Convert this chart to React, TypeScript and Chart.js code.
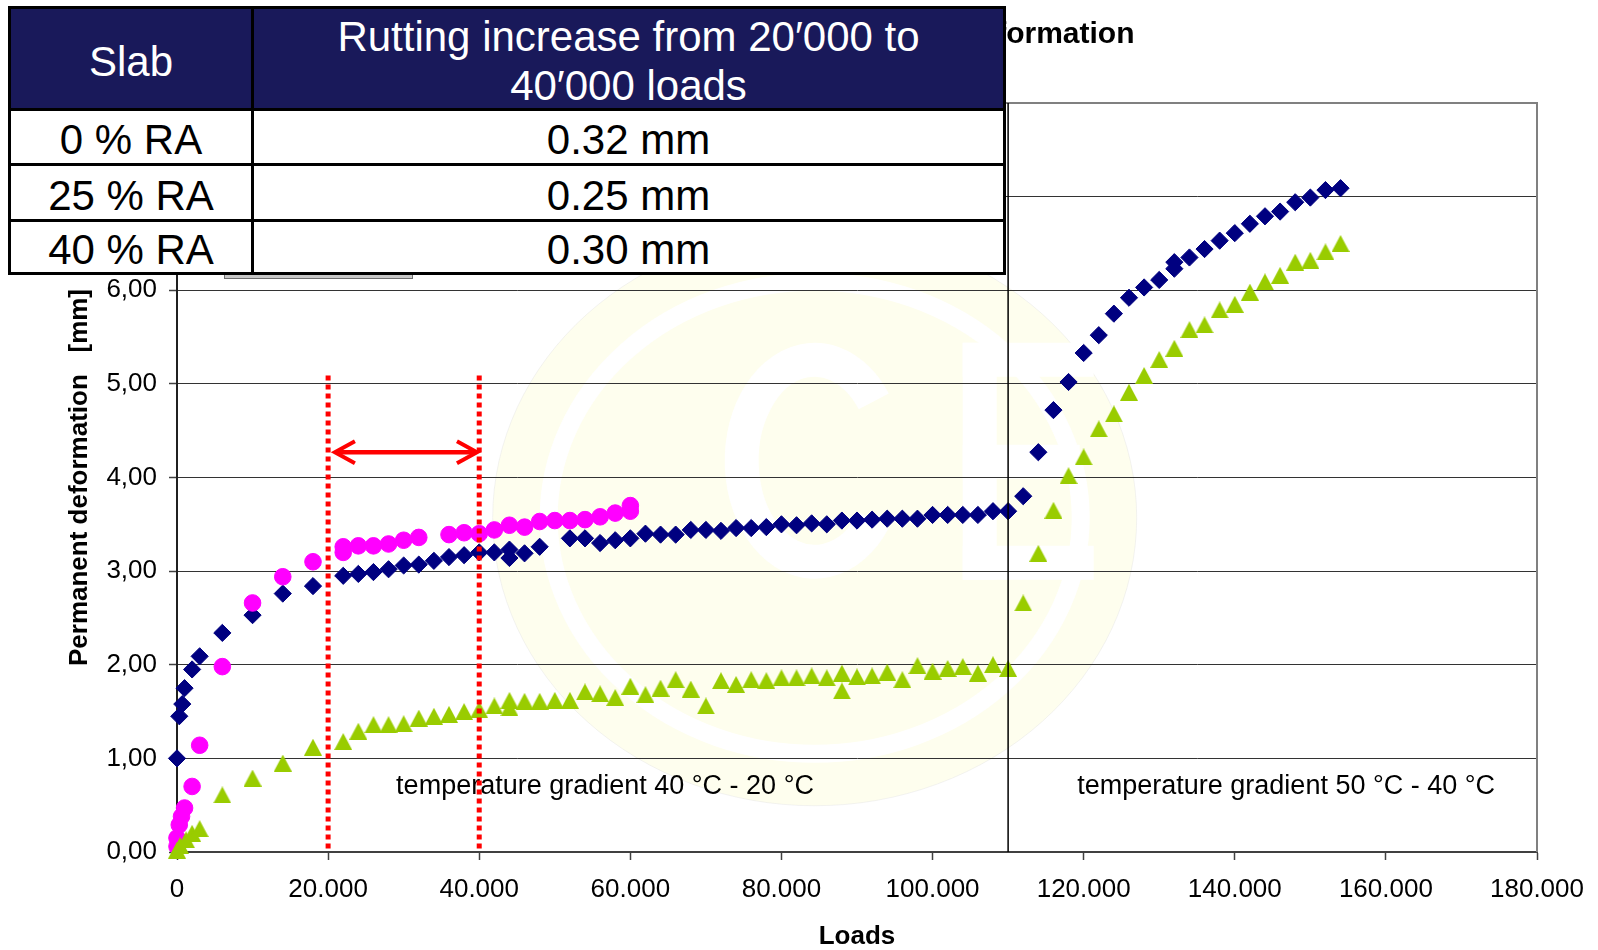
import React, { useEffect, useRef } from 'react';
import { Chart, registerables } from 'chart.js';

Chart.register(...registerables);

const FONT = "'Liberation Sans', Arial, Helvetica, sans-serif";

// ---------- axes ----------
const X_MIN = 0;
const X_MAX = 180000;
const X_STEP = 20000;
const Y_MIN = 0;
const Y_MAX = 8;
const Y_STEP = 1;
const X_TITLE = 'Loads';
const Y_TITLE = 'Permanent deformation   [mm]';
const CHART_TITLE = 'Comparison of permanent deformation';

// ---------- series ----------
const SERIES_LABELS = ['0 % RA', '25 % RA', '40 % RA'];

// 0 % RA (green triangles)
const loadsRA0 = [
  0, 400, 1200, 2000, 3000, 6000, 10000, 14000, 18000, 22000, 24000, 26000, 28000, 30000, 32000, 34000,
  36000, 38000, 40000, 42000, 44000, 44000, 46000, 48000, 50000, 52000, 54000, 56000, 58000, 60000, 62000,
  64000, 66000, 68000, 70000, 72000, 74000, 76000, 78000, 80000, 82000, 84000, 86000, 88000, 88000, 90000,
  92000, 94000, 96000, 98000, 100000, 102000, 104000, 106000, 108000, 110000, 112000, 114000, 116000,
  118000, 120000, 122000, 124000, 126000, 128000, 130000, 132000, 134000, 136000, 138000, 140000, 142000,
  144000, 146000, 148000, 150000, 152000, 154000,
];
const defRA0 = [
  0.02, 0.07, 0.13, 0.2, 0.25, 0.61, 0.79, 0.95, 1.12, 1.18, 1.29, 1.36, 1.36, 1.37, 1.43, 1.45,
  1.47, 1.5, 1.52, 1.56, 1.62, 1.54, 1.61, 1.61, 1.62, 1.62, 1.71, 1.69, 1.65, 1.77, 1.68,
  1.75, 1.84, 1.74, 1.56, 1.83, 1.79, 1.84, 1.83, 1.86, 1.86, 1.88, 1.86, 1.91, 1.72, 1.87,
  1.88, 1.92, 1.84, 1.99, 1.93, 1.96, 1.98, 1.91, 2.0, 1.96, 2.66, 3.19, 3.65,
  4.02, 4.22, 4.52, 4.68, 4.91, 5.09, 5.26, 5.38, 5.58, 5.63, 5.79, 5.85, 5.98,
  6.09, 6.16, 6.3, 6.32, 6.41, 6.5,
];

// 25 % RA (magenta circles)
const loadsRA25 = [
  0, 0, 300, 600, 1000, 2000, 3000, 6000, 10000, 14000, 18000, 22000, 22000, 24000, 26000, 28000, 30000,
  32000, 36000, 38000, 40000, 42000, 44000, 46000, 48000, 50000, 52000, 54000, 56000, 58000, 60000, 60000,
];
const defRA25 = [
  0.06, 0.15, 0.29, 0.38, 0.47, 0.7, 1.14, 1.98, 2.66, 2.94, 3.1, 3.2, 3.26, 3.27, 3.27, 3.29, 3.33,
  3.36, 3.39, 3.41, 3.4, 3.44, 3.49, 3.47, 3.53, 3.54, 3.54, 3.55, 3.58, 3.62, 3.64, 3.7,
];

// 40 % RA (navy diamonds)
const loadsRA40 = [
  0, 300, 700, 1000, 2000, 3000, 6000, 10000, 14000, 18000, 22000, 24000, 26000, 28000, 30000, 32000,
  34000, 36000, 38000, 40000, 42000, 44000, 44000, 46000, 48000, 52000, 54000, 56000, 58000, 60000, 62000,
  64000, 66000, 68000, 70000, 72000, 74000, 76000, 78000, 80000, 82000, 84000, 86000, 88000, 90000, 92000,
  94000, 96000, 98000, 100000, 102000, 104000, 106000, 108000, 110000, 112000, 114000, 116000, 118000,
  120000, 122000, 124000, 126000, 128000, 130000, 132000, 132000, 134000, 136000, 138000, 140000, 142000,
  144000, 146000, 148000, 150000, 152000, 154000,
];
const defRA40 = [
  1.0, 1.45, 1.58, 1.75, 1.95, 2.09, 2.34, 2.53, 2.76, 2.84, 2.95, 2.97, 2.99, 3.02, 3.06, 3.07,
  3.11, 3.15, 3.17, 3.2, 3.2, 3.23, 3.14, 3.19, 3.26, 3.35, 3.35, 3.3, 3.33, 3.35, 3.4,
  3.39, 3.39, 3.44, 3.44, 3.43, 3.46, 3.46, 3.47, 3.5, 3.49, 3.51, 3.5, 3.54, 3.54, 3.55,
  3.56, 3.56, 3.56, 3.6, 3.6, 3.6, 3.6, 3.64, 3.64, 3.8, 4.27, 4.72, 5.02,
  5.33, 5.52, 5.75, 5.92, 6.03, 6.11, 6.23, 6.3, 6.35, 6.44, 6.53, 6.61, 6.71,
  6.79, 6.84, 6.94, 6.99, 7.07, 7.09,
];

// ---------- annotations ----------
const MARKER_LOADS = [20000, 40000];
const MARKER_TOP = 5.09;
const ARROW_FROM = 20900;
const ARROW_TO = 39700;
const ARROW_LEVEL = 4.27;
const GRADIENT_BOUNDARY = 110000;
const GRADIENT_LABELS = ['temperature gradient 40 °C - 20 °C', 'temperature gradient 50 °C - 40 °C'];
const GRADIENT_LABEL_X = [56650, 146800];
const GRADIENT_LABEL_Y = 0.7;
const WATERMARK_CENTER = [84400, 3.57];

// ---------- table ----------
const TABLE_HEAD_SLAB = 'Slab';
const TABLE_HEAD_INCREASE = ['Rutting increase from 20′000 to', '40′000 loads'];
const TABLE_SLABS = ['0 % RA', '25 % RA', '40 % RA'];
const TABLE_INCREASE = ['0.32 mm', '0.25 mm', '0.30 mm'];

const COLORS = {
  ra0: '#99CC00',
  ra25: '#FF00FF',
  ra40: '#000080',
  red: '#FF0000',
  navyHead: '#19195a',
};

const pts = (xs: number[], ys: number[]) => xs.map((x, i) => ({ x, y: ys[i] }));

const fmtThousands = (v: number) =>
  v === 0 ? '0' : String(Math.round(v)).replace(/\B(?=(\d{3})+(?!\d))/g, '.');

function makeTriangle(color: string) {
  const c = document.createElement('canvas');
  c.width = 18;
  c.height = 17;
  const g = c.getContext('2d')!;
  g.fillStyle = color;
  g.beginPath();
  g.moveTo(9, 0);
  g.lineTo(18, 17);
  g.lineTo(0, 17);
  g.closePath();
  g.fill();
  return c;
}

const watermarkPlugin = {
  id: 'watermark',
  beforeDraw(chart: any) {
    const { ctx } = chart;
    const xs = chart.scales.x;
    const ys = chart.scales.y;
    const cx = xs.getPixelForValue(WATERMARK_CENTER[0]);
    const cy = ys.getPixelForValue(WATERMARK_CENTER[1]);
    ctx.save();
    ctx.fillStyle = 'rgb(254,254,238)';
    ctx.beginPath();
    ctx.ellipse(cx, cy, 322, 288, 0, 0, Math.PI * 2);
    ctx.fill();
    ctx.strokeStyle = 'rgba(225,225,225,0.4)';
    ctx.lineWidth = 1;
    ctx.stroke();
    // white ring
    ctx.strokeStyle = '#ffffff';
    ctx.lineWidth = 18;
    ctx.beginPath();
    ctx.ellipse(cx, cy, 266, 236, 0, 0, Math.PI * 2);
    ctx.stroke();
    // letter C
    ctx.lineWidth = 34;
    ctx.beginPath();
    ctx.ellipse(cx, cy - 57, 73, 101, 0, Math.PI * 0.2, Math.PI * 1.8);
    ctx.stroke();
    // letter E
    ctx.fillStyle = '#ffffff';
    const ex = cx + 148;
    const ey = cy - 175;
    ctx.fillRect(ex, ey, 34, 237);
    ctx.fillRect(ex, ey, 131, 34);
    ctx.fillRect(ex, ey + 102, 117, 34);
    ctx.fillRect(ex, ey + 203, 131, 34);
    ctx.restore();
  },
};

const framePlugin = {
  id: 'frame',
  beforeDatasetsDraw(chart: any) {
    const { ctx, chartArea: a } = chart;
    ctx.save();
    ctx.strokeStyle = '#808080';
    ctx.lineWidth = 2;
    ctx.beginPath();
    ctx.moveTo(a.left, a.top);
    ctx.lineTo(a.right, a.top);
    ctx.lineTo(a.right, a.bottom);
    ctx.stroke();
    // gradient labels
    ctx.fillStyle = '#000';
    ctx.font = `27px ${FONT}`;
    ctx.textAlign = 'center';
    ctx.textBaseline = 'middle';
    GRADIENT_LABELS.forEach((t, i) => {
      ctx.fillText(
        t,
        chart.scales.x.getPixelForValue(GRADIENT_LABEL_X[i]),
        chart.scales.y.getPixelForValue(GRADIENT_LABEL_Y)
      );
    });
    ctx.restore();
  },
};

const arrowPlugin = {
  id: 'arrow',
  afterDatasetsDraw(chart: any) {
    const { ctx } = chart;
    const x1 = chart.scales.x.getPixelForValue(ARROW_FROM);
    const x2 = chart.scales.x.getPixelForValue(ARROW_TO);
    const y = chart.scales.y.getPixelForValue(ARROW_LEVEL);
    ctx.save();
    ctx.strokeStyle = COLORS.red;
    ctx.lineWidth = 4.5;
    ctx.lineCap = 'butt';
    ctx.beginPath();
    ctx.moveTo(x1 + 2, y);
    ctx.lineTo(x2 - 2, y);
    ctx.stroke();
    ctx.lineWidth = 4;
    ctx.beginPath();
    ctx.moveTo(x1 + 20, y - 11);
    ctx.lineTo(x1, y);
    ctx.lineTo(x1 + 20, y + 11);
    ctx.moveTo(x2 - 20, y - 11);
    ctx.lineTo(x2, y);
    ctx.lineTo(x2 - 20, y + 11);
    ctx.stroke();
    ctx.restore();
  },
  afterDraw(chart: any) {
    const { ctx, chartArea: a } = chart;
    ctx.save();
    ctx.fillStyle = '#000';
    ctx.font = `bold 30px ${FONT}`;
    ctx.textAlign = 'center';
    ctx.textBaseline = 'middle';
    ctx.fillText(CHART_TITLE, (a.left + a.right) / 2, 35);
    ctx.restore();
  },
};

export default function App() {
  const ref = useRef<HTMLCanvasElement>(null);

  useEffect(() => {
    const canvas = ref.current;
    if (!canvas) return;
    const tri = makeTriangle(COLORS.ra0);
    const lineDs = (x: number, yTop: number, yBottom: number, color: string, width: number, dash: number[]) => ({
      label: 'line',
      data: [
        { x, y: yTop },
        { x, y: yBottom },
      ],
      showLine: true,
      borderColor: color,
      backgroundColor: color,
      borderWidth: width,
      borderDash: dash,
      borderCapStyle: 'butt',
      pointRadius: 0,
      pointHoverRadius: 0,
    });
    const chart = new Chart(canvas, {
      type: 'scatter',
      data: {
        datasets: [
          lineDs(MARKER_LOADS[0], MARKER_TOP, 0, COLORS.red, 5, [5, 4]),
          lineDs(MARKER_LOADS[1], MARKER_TOP, 0, COLORS.red, 5, [5, 4]),
          lineDs(GRADIENT_BOUNDARY, Y_MAX, Y_MIN, '#000', 1.5, []),
          {
            label: SERIES_LABELS[0],
            data: pts(loadsRA0, defRA0),
            pointStyle: tri,
            pointRadius: 9,
            backgroundColor: COLORS.ra0,
            borderColor: COLORS.ra0,
            clip: false,
          },
          {
            label: SERIES_LABELS[1],
            data: pts(loadsRA25, defRA25),
            pointStyle: 'circle',
            pointRadius: 8.3,
            borderWidth: 1,
            backgroundColor: COLORS.ra25,
            borderColor: COLORS.ra25,
            clip: false,
          },
          {
            label: SERIES_LABELS[2],
            data: pts(loadsRA40, defRA40),
            pointStyle: 'rectRot',
            pointRadius: 8.6,
            borderWidth: 1,
            backgroundColor: COLORS.ra40,
            borderColor: COLORS.ra40,
            clip: false,
          },
        ] as any,
      },
      options: {
        responsive: false,
        animation: false,
        devicePixelRatio: 1,
        layout: { padding: { left: 0, top: 103, right: 61, bottom: 0 } },
        plugins: {
          legend: { display: false },
          title: { display: false },
          tooltip: { enabled: false },
        },
        scales: {
          x: {
            type: 'linear',
            min: X_MIN,
            max: X_MAX,
            afterFit: (s: any) => {
              s.height = 98;
            },
            border: { color: '#404040', width: 2 },
            grid: {
              drawOnChartArea: false,
              drawTicks: true,
              tickLength: 8,
              tickColor: '#404040',
              tickWidth: 1.5,
            },
            ticks: {
              stepSize: X_STEP,
              autoSkip: false,
              maxRotation: 0,
              padding: 14,
              color: '#000',
              font: { family: FONT, size: 26 },
              callback: (v: any) => fmtThousands(Number(v)),
            },
            title: {
              display: true,
              text: X_TITLE,
              color: '#000',
              font: { family: FONT, size: 26, weight: 'bold', lineHeight: 1 },
              padding: { top: 0, bottom: 0 },
            },
          },
          y: {
            type: 'linear',
            min: Y_MIN,
            max: Y_MAX,
            afterFit: (s: any) => {
              s.width = 177;
            },
            border: { color: '#202020', width: 2 },
            grid: {
              drawOnChartArea: true,
              color: '#333333',
              lineWidth: 1,
              drawTicks: true,
              tickLength: 8,
              tickColor: '#404040',
              tickWidth: 1.5,
            },
            ticks: {
              stepSize: Y_STEP,
              padding: 12,
              color: '#000',
              font: { family: FONT, size: 26 },
              callback: (v: any) => Number(v).toFixed(2).replace('.', ','),
            },
            title: {
              display: true,
              text: Y_TITLE,
              color: '#000',
              font: { family: FONT, size: 26, weight: 'bold', lineHeight: 1.2 },
              padding: { top: 64, bottom: 0 },
            },
          },
        },
      } as any,
      plugins: [watermarkPlugin, framePlugin, arrowPlugin],
    });
    return () => chart.destroy();
  }, []);

  const cellBase: React.CSSProperties = {
    display: 'flex',
    alignItems: 'center',
    justifyContent: 'center',
    boxSizing: 'border-box',
    paddingTop: 5,
    whiteSpace: 'nowrap',
  };
  const head: React.CSSProperties = { ...cellBase, background: COLORS.navyHead, color: '#fff' };
  const body: React.CSSProperties = { ...cellBase, background: '#fff', color: '#000' };

  return (
    <div
      style={{
        position: 'absolute',
        left: 0,
        top: 0,
        width: 1598,
        height: 950,
        background: '#fff',
        overflow: 'hidden',
      }}
    >
      <canvas
        ref={ref}
        width={1598}
        height={950}
        style={{ position: 'absolute', left: 0, top: 0, width: 1598, height: 950 }}
      />
      {/* legend box (mostly hidden behind the table) */}
      <div
        style={{
          position: 'absolute',
          left: 224,
          top: 120,
          width: 189,
          height: 159,
          boxSizing: 'border-box',
          background: '#c8c8c8',
          border: '1px solid #707070',
        }}
      />
      {/* summary table */}
      <div
        style={{
          position: 'absolute',
          left: 8,
          top: 6,
          width: 998,
          height: 269,
          boxSizing: 'border-box',
          background: '#000',
          padding: 3,
          display: 'grid',
          gridTemplateColumns: '240px 749px',
          gridTemplateRows: '99px 52px 53px 50px',
          gap: 3,
          fontFamily: FONT,
          fontSize: 42,
          lineHeight: '49px',
        }}
      >
        <div style={head}>{TABLE_HEAD_SLAB}</div>
        <div style={{ ...head, flexDirection: 'column', paddingTop: 4 }}>
          {TABLE_HEAD_INCREASE.map((t, i) => (
            <div key={i}>{t}</div>
          ))}
        </div>
        {TABLE_SLABS.map((s, i) => (
          <React.Fragment key={s}>
            <div style={body}>{s}</div>
            <div style={body}>{TABLE_INCREASE[i]}</div>
          </React.Fragment>
        ))}
      </div>
    </div>
  );
}
